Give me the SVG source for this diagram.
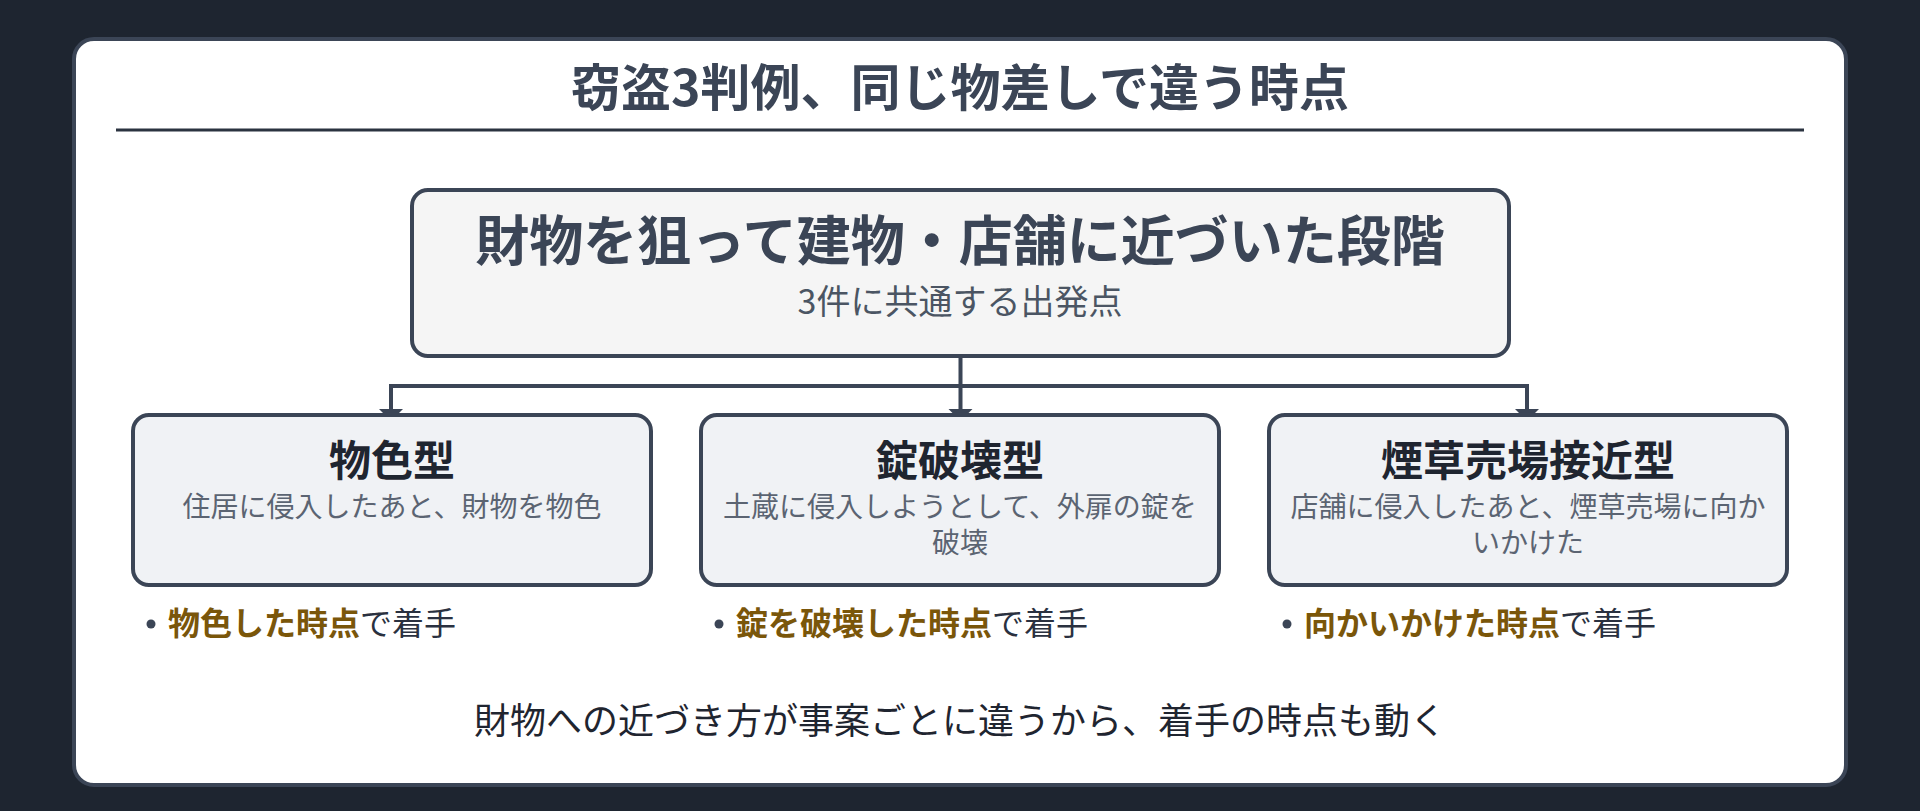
<svg xmlns="http://www.w3.org/2000/svg" width="1920" height="811" viewBox="0 0 1920 811">
<style>
text{font-family:"Noto Sans CJK JP","Noto Sans",sans-serif}
.title{font-size:50px;font-weight:700;fill:#3b4556}
.head{font-size:54px;font-weight:700;fill:#3b4556}
.sub{font-size:34px;fill:#4b5563}
.btitle{font-size:42px;font-weight:700;fill:#1f2530}
.desc{font-size:28px;fill:#5b6472}
.bul{font-size:32px;fill:#2a3140}
.em{font-weight:700;fill:#7a560a}
.foot{font-size:36px;fill:#1f2530}
.box{fill:#f0f2f5;stroke:#3b4556;stroke-width:4}
.conn{fill:none;stroke:#3b4556;stroke-width:4;stroke-linejoin:miter}
.ah{fill:#3b4556}
</style>
<rect width="1920" height="811" fill="#1e2530"/>
<rect x="74" y="39" width="1772" height="746" rx="20" fill="#ffffff" stroke="#3b4556" stroke-width="4"/>
<text class="title" x="960" y="106" text-anchor="middle">窃盗3判例、同じ物差しで違う時点</text>
<line x1="116" y1="130" x2="1804" y2="130" stroke="#2b3340" stroke-width="3"/>
<g id="connectors">
<path class="conn" d="M960.5 358V412M391 410V386H1527V410"/>
<polygon class="ah" points="379,409 403,409 391,421"/>
<polygon class="ah" points="948.5,409 972.5,409 960.5,421"/>
<polygon class="ah" points="1515,409 1539,409 1527,421"/>
</g>
<g id="node-start">
<rect x="412" y="190" width="1097" height="166" rx="16" fill="#f5f5f5" stroke="#3b4556" stroke-width="4"/>
<text class="head" x="960" y="261" text-anchor="middle">財物を狙って建物・店舗に近づいた段階</text>
<text class="sub" x="960" y="314" text-anchor="middle">3件に共通する出発点</text>
</g>
<g id="node-busshoku">
<rect class="box" x="133" y="415" width="518" height="170" rx="16"/>
<text class="btitle" x="392" y="476" text-anchor="middle">物色型</text>
<text class="desc" x="392" y="517" text-anchor="middle">住居に侵入したあと、財物を物色</text>
<circle cx="151" cy="624" r="4.5" fill="#3b4556"/>
<text class="bul" x="168" y="635"><tspan class="em">物色した時点</tspan>で着手</text>
</g>
<g id="node-jouhakai">
<rect class="box" x="701" y="415" width="518" height="170" rx="16"/>
<text class="btitle" x="960" y="476" text-anchor="middle">錠破壊型</text>
<text class="desc" x="960" y="517" text-anchor="middle">土蔵に侵入しようとして、外扉の錠を</text>
<text class="desc" x="960" y="553" text-anchor="middle">破壊</text>
<circle cx="719" cy="624" r="4.5" fill="#3b4556"/>
<text class="bul" x="736" y="635"><tspan class="em">錠を破壊した時点</tspan>で着手</text>
</g>
<g id="node-tabako">
<rect class="box" x="1269" y="415" width="518" height="170" rx="16"/>
<text class="btitle" x="1528" y="476" text-anchor="middle">煙草売場接近型</text>
<text class="desc" x="1528" y="517" text-anchor="middle">店舗に侵入したあと、煙草売場に向か</text>
<text class="desc" x="1528" y="553" text-anchor="middle">いかけた</text>
<circle cx="1287" cy="624" r="4.5" fill="#3b4556"/>
<text class="bul" x="1304" y="635"><tspan class="em">向かいかけた時点</tspan>で着手</text>
</g>
<text class="foot" x="960" y="734" text-anchor="middle">財物への近づき方が事案ごとに違うから、着手の時点も動く</text>
</svg>
